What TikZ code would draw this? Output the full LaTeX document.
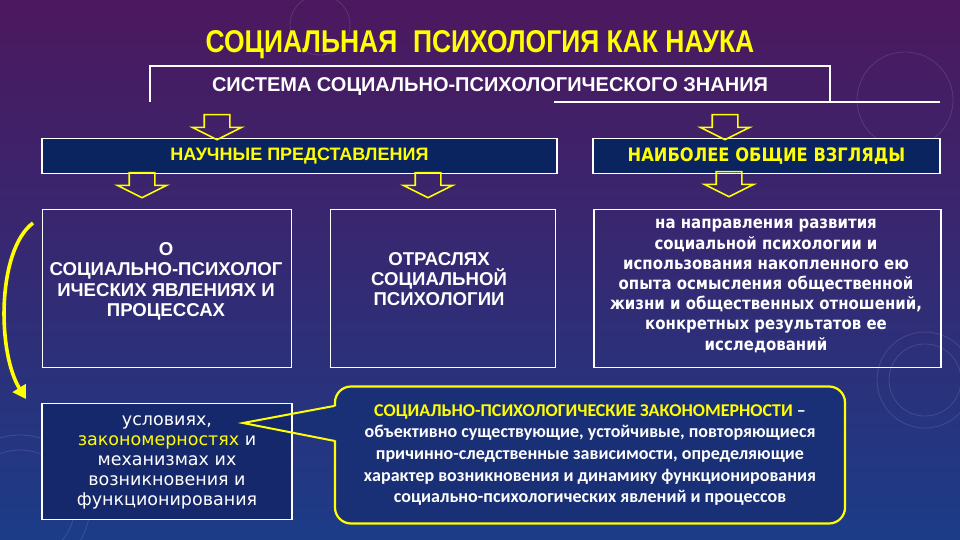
\documentclass[tikz,border=0pt]{standalone}
\usepackage{fontspec}
\setmainfont{Liberation Sans}
\newfontfamily\narrowfont[FakeStretch=0.84]{Liberation Sans}
\newfontfamily\verdfont{DejaVu Sans}
\newfontfamily\tahfont[FakeStretch=0.88]{DejaVu Sans}
\newfontfamily\calfont{Carlito}
\usetikzlibrary{shapes.arrows,arrows.meta,positioning}
\definecolor{slideyellow}{RGB}{255,255,0}
\definecolor{hdrblue}{RGB}{10,36,96}
\definecolor{lawblue}{RGB}{26,48,118}
\definecolor{condblue}{RGB}{22,40,108}
\definecolor{bgtop}{RGB}{76,24,94}
\definecolor{bgmid}{RGB}{50,36,112}
\definecolor{bgbot}{RGB}{28,60,136}

\begin{document}
\begin{tikzpicture}[x=1pt,y=-1pt,
    hdr/.style={draw=white,line width=1.3pt,fill=hdrblue,inner sep=0pt},
    plainbox/.style={draw=white,line width=1.3pt,inner sep=0pt},
    hollow/.style={single arrow,draw=slideyellow,line width=1.6pt,rotate=-90,
      minimum height=25pt,minimum width=48pt,inner xsep=0pt,inner ysep=12pt,
      single arrow head extend=12pt,single arrow tip angle=127},
    caps/.style={text=white,align=center,font=\bfseries\fontsize{18.6}{20.3}\selectfont},
    lower/.style={text=white,align=center,font=\tahfont\bfseries\fontsize{17}{20.2}\selectfont},
    deco/.style={draw=white,opacity=0.12,line width=0.8pt}]
  \useasboundingbox (0,0) rectangle (960,540);
  \shade[top color=bgtop,middle color=bgmid,bottom color=bgbot] (0,0) rectangle (960,540);
  % faint rings of the slide template
  \draw[deco] (905,100) circle (48);
  \draw[deco] (925,380) circle (36) (925,380) circle (48);
  \draw[deco] (20,505) circle (55) (20,505) circle (70);
  \draw[deco] (320,25) circle (30);

  \node[text=slideyellow,font=\narrowfont\bfseries\fontsize{31.5}{32}\selectfont] (title) at (480,45)
    {СОЦИАЛЬНАЯ\hspace{0.5em}ПСИХОЛОГИЯ КАК НАУКА};
  \node[text=white,font=\bfseries\fontsize{20}{22}\selectfont] (sys) at (490,87)
    {СИСТЕМА СОЦИАЛЬНО-ПСИХОЛОГИЧЕСКОГО ЗНАНИЯ};
  \coordinate (frL) at (150,102);
  \coordinate (frTL) at (150,66);
  \coordinate (frTR) at (830,66);
  \coordinate (frR) at (830,102);
  \coordinate (ulA) at (554,102);
  \coordinate (ulB) at (940,102);
  \draw[white,line width=1.3pt] (frL) -- (frTL) -- (frTR) -- (frR);
  \draw[white,line width=1.3pt] (ulA) -- (ulB);

  \node[hdr,minimum width=515pt,minimum height=35pt,text=slideyellow,
    font=\bfseries\fontsize{18}{20}\selectfont] (sci) at (299.5,156) {НАУЧНЫЕ ПРЕДСТАВЛЕНИЯ};
  \node[hdr,minimum width=347pt,minimum height=35pt,text=slideyellow,
    font=\tahfont\bfseries\fontsize{18.5}{20}\selectfont] (gen) at (766.5,156) {НАИБОЛЕЕ ОБЩИЕ ВЗГЛЯДЫ};

  \node[hollow] (a1) at (217,124) {};
  \node[hollow] (a2) at (725,124) {};
  \node[hollow] (a3) at (142,182) {};
  \node[hollow] (a4) at (428,182) {};
  \node[hollow] (a5) at (729,181) {};

  \node[plainbox,minimum width=249pt,minimum height=158pt] (phen) at (167,288.5) {};
  \node[caps] (phentxt) at (166,281.5) {О\\СОЦИАЛЬНО-ПСИХОЛОГ\\ИЧЕСКИХ ЯВЛЕНИЯХ И\\ПРОЦЕССАХ};
  \node[plainbox,minimum width=225pt,minimum height=158pt] (branch) at (443,288.5) {};
  \node[caps] (branchtxt) at (439,279) {ОТРАСЛЯХ\\СОЦИАЛЬНОЙ\\ПСИХОЛОГИИ};
  \node[plainbox,minimum width=347pt,minimum height=158pt] (views) at (767.5,288.5) {};
  \node[lower] (viewstxt) at (766,286) {на направления развития\\социальной психологии и\\использования накопленного ею\\опыта осмысления общественной\\жизни и общественных отношений,\\конкретных результатов ее\\исследований};

  % callout with its pointer
  \node[draw=slideyellow,line width=2.2pt,fill=lawblue,rounded corners=16pt,
    minimum width=510pt,minimum height=137pt,align=center,text=white,
    font=\calfont\bfseries\fontsize{18}{21.7}\selectfont] (law) at (590,455)
    {{\color{slideyellow}СОЦИАЛЬНО-ПСИХОЛОГИЧЕСКИЕ ЗАКОНОМЕРНОСТИ} –\\
     объективно существующие, устойчивые, повторяющиеся\\
     причинно-следственные зависимости, определяющие\\
     характер возникновения и динамику функционирования\\
     социально-психологических явлений и процессов};
  \coordinate (tip) at (243,423);
  \coordinate (pu) at (334,406);
  \coordinate (pl) at (335,441);
  \fill[lawblue] (tip) -- ([xshift=4pt]pu) -- ([xshift=4pt]pl) -- cycle;

  \node[plainbox,fill=condblue,minimum width=250pt,minimum height=116pt] (cond) at (167,461.5) {};
  \node[text=white,align=center,font=\verdfont\fontsize{17.5}{20}\selectfont] (condtxt) at (167,462)
    {условиях,\\{\color{slideyellow}закономерностях} и\\механизмах их\\возникновения и\\функционирования};
  \draw[slideyellow,line width=2pt] (pu) -- (tip) -- (pl);

  \coordinate (arcS) at (33,223);
  \coordinate (arcE) at (26,399);
  \draw[slideyellow,line width=3.6pt,-{Triangle[length=13pt,width=15pt]}]
    (arcS) .. controls (-3,250) and (-3,352) .. (arcE);
\end{tikzpicture}
\end{document}
